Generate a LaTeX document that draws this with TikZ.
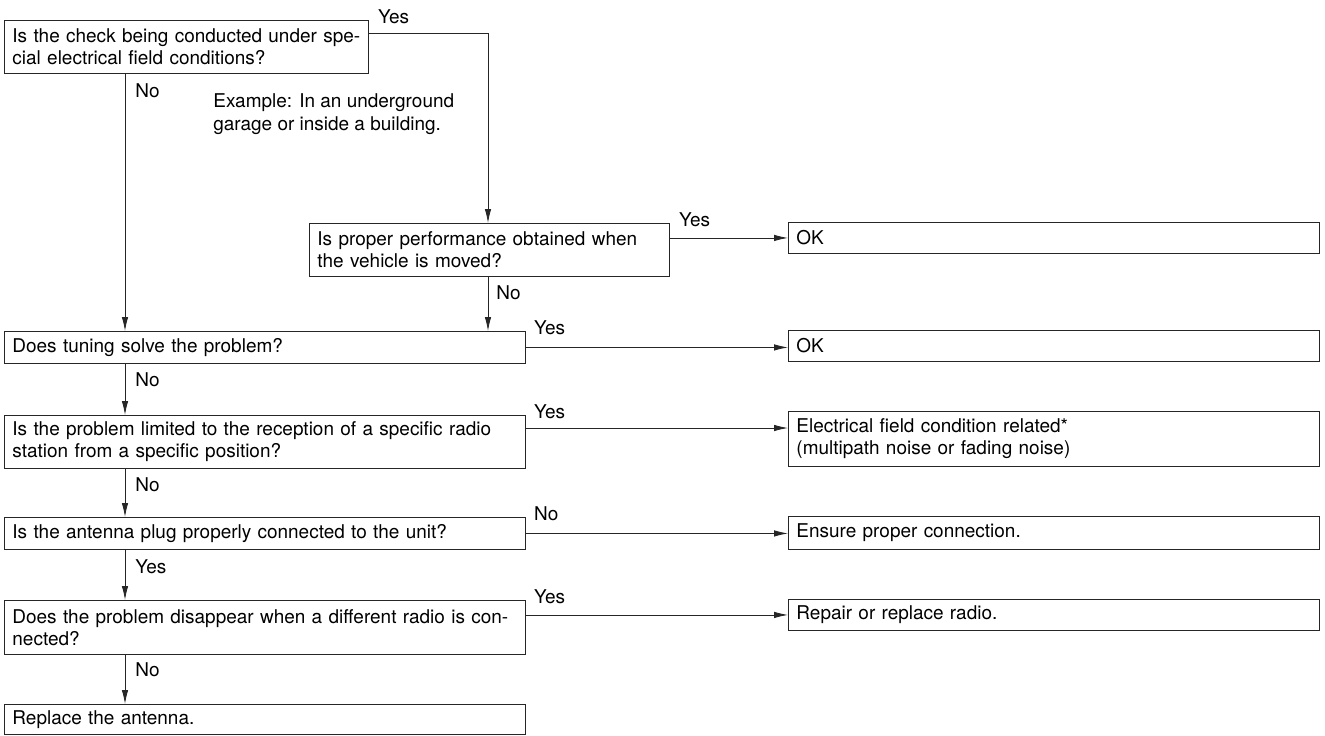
\documentclass[tikz,border=0pt]{standalone}
\usepackage{fontspec}
\setmainfont{TeX Gyre Heros}
\usetikzlibrary{arrows.meta}

\newcommand\boxfont{\fontsize{10.8}{12.5}\selectfont}

\tikzset{
  qbox/.style={draw=black!85, line width=0.5pt, anchor=north west, align=left,
    inner xsep=0.16cm, inner ysep=0pt, font=\boxfont},
  lbl/.style={inner sep=0pt, font=\boxfont},
  flow/.style={draw=black!85, line width=0.5pt, -{Latex[length=2.8mm,width=1.3mm]}},
}

\begin{document}
\begin{tikzpicture}[x=0.02cm, y=-0.02cm]
    \useasboundingbox (0,0) rectangle (1325,735);

    % left column
    \node[qbox, text width=6.96cm, minimum height=1.06cm] (q1) at (4,20)
        {Is the check being conducted under spe-\\cial electrical field conditions?};
    \node[qbox, text width=6.88cm, minimum height=1.06cm] (q2) at (309,223)
        {Is proper performance obtained when\\the vehicle is moved?};
    \node[qbox, text width=10.1cm, minimum height=0.64cm] (q3) at (4,331)
        {Does tuning solve the problem?};
    \node[qbox, text width=10.1cm, minimum height=1.06cm] (q4) at (4,415)
        {Is the problem limited to the reception of a specific radio\\station from a specific position?};
    \node[qbox, text width=10.1cm, minimum height=0.64cm] (q5) at (4,517)
        {Is the antenna plug properly connected to the unit?};
    \node[qbox, text width=10.1cm, minimum height=1.08cm] (q6) at (4,600)
        {Does the problem disappear when a different radio is con-\\nected?};
    \node[qbox, text width=10.1cm, minimum height=0.60cm] (q7) at (4,704)
        {Replace the antenna.};

    % right column
    \node[qbox, text width=10.3cm, minimum height=0.62cm] (ok1) at (788,222) {OK};
    \node[qbox, text width=10.3cm, minimum height=0.62cm] (ok2) at (788,330) {OK};
    \node[qbox, text width=10.3cm, minimum height=1.10cm] (elec) at (788,411)
        {Electrical field condition related*\\(multipath noise or fading noise)};
    \node[qbox, text width=10.3cm, minimum height=0.66cm] (ensure) at (788,516)
        {Ensure proper connection.};
    \node[qbox, text width=10.3cm, minimum height=0.62cm] (repair) at (788,599)
        {Repair or replace radio.};

    \node[lbl, anchor=north west, align=left, font=\fontsize{10.8}{13}\selectfont] (note) at (213,93)
        {Example: In an underground\\garage or inside a building.};

    \coordinate (col) at (125,0);
    \coordinate (bend) at (488,33);

    % Yes / No branches
    \draw[flow] (q1.east |- bend) -- (bend) -- (bend |- q2.north);
    \draw[flow] (q1.south -| col) -- (col |- q3.north);
    \draw[flow] (bend |- q2.south) -- (bend |- q3.north);
    \draw[flow] (q2.east |- ok1.west) -- (ok1.west);
    \draw[flow] (q3.east) -- (q3.east -| ok2.west);
    \draw[flow] ([yshift=-0.26cm]q4.north east) -- ([yshift=-0.26cm]q4.north east -| elec.west);
    \draw[flow] (q5.east) -- (q5.east -| ensure.west);
    \draw[flow] (q6.east |- repair.west) -- (repair.west);
    \draw[flow] (q3.south -| col) -- (col |- q4.north);
    \draw[flow] (q4.south -| col) -- (col |- q5.north);
    \draw[flow] (q5.south -| col) -- (col |- q6.north);
    \draw[flow] (q6.south -| col) -- (col |- q7.north);

    % side labels
    \node[lbl, anchor=south west] at ([xshift=0.18cm, yshift=-0.08cm]q1.north east) {Yes};
    \node[lbl, anchor=south west] at ([xshift=0.18cm, yshift=-0.08cm]q2.north east) {Yes};
    \node[lbl, anchor=south west] at ([xshift=0.16cm, yshift=-0.08cm]q3.north east) {Yes};
    \node[lbl, anchor=south west] at ([xshift=0.16cm, yshift=-0.08cm]q4.north east) {Yes};
    \node[lbl, anchor=south west] at ([xshift=0.16cm, yshift=-0.08cm]q5.north east) {No};
    \node[lbl, anchor=south west] at ([xshift=0.16cm, yshift=-0.08cm]q6.north east) {Yes};

    % labels under the boxes
    \node[lbl, anchor=north west] at (135,83) {No};
    \node[lbl, anchor=north west] at (496,285) {No};
    \node[lbl, anchor=north west] at (135,372) {No};
    \node[lbl, anchor=north west] at (135,477) {No};
    \node[lbl, anchor=north west] at (135,559) {Yes};
    \node[lbl, anchor=north west] at (135,662) {No};
\end{tikzpicture}
\end{document}
